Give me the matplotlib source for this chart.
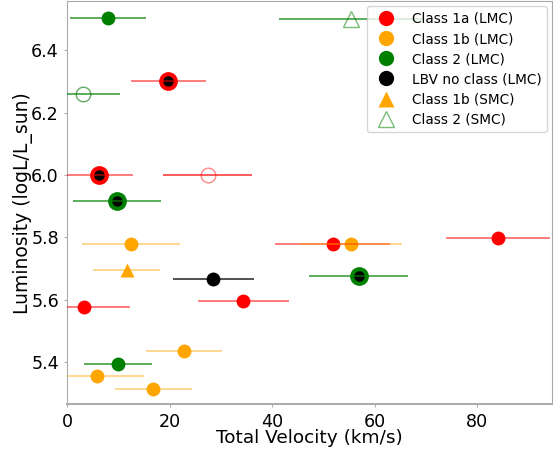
import matplotlib
matplotlib.use("Agg")
import matplotlib.pyplot as plt

# Class 1a (LMC)
c1a_x = [19.7, 6.1, 51.8, 84.0, 34.3, 3.3]
c1a_y = [6.301, 6.000, 5.778, 5.798, 5.597, 5.576]
c1a_e = [7.3, 6.8, 11.2, 10.2, 8.9, 8.9]
# Class 1b (LMC)
c1b_x = [12.4, 55.35, 22.8, 5.7, 16.8]
c1b_y = [5.778, 5.778, 5.436, 5.356, 5.315]
c1b_e = [9.5, 10.0, 7.45, 9.3, 7.45]
# Class 2 (LMC)
c2_x = [7.9, 9.65, 56.8, 9.9]
c2_y = [6.502, 5.918, 5.676, 5.394]
c2_e = [7.4, 8.6, 9.7, 6.55]
# LBVs inside classes (black cores)
lbv_in_x = [19.7, 6.1, 9.65, 56.8]
lbv_in_y = [6.301, 6.000, 5.918, 5.676]
lbv_in_col = ['red', 'red', 'green', 'green']
# LBV no class (LMC)
lbv_x = [28.5]
lbv_y = [5.667]
lbv_e = [7.85]
# Class 1b (SMC)
s1b_x = [11.6]
s1b_y = [5.696]
s1b_e = [6.5]
# Class 2 (SMC)
s2_x = [55.35]
s2_y = [6.500]
s2_e = [14.15]
# open circles
open_g_x = [3.1]
open_g_y = [6.259]
open_g_e = [7.1]
open_r_x = [27.4]
open_r_y = [6.000]
open_r_e = [8.7]

fig = plt.figure(figsize=(5.57, 4.49), dpi=100)
ax = fig.add_axes([67.3/557, 44.7/449, (552.3-67.3)/557, (448-44.7)/449])

def ebar(x, y, e, col, a):
    ax.errorbar(x, y, xerr=e, fmt='none', ecolor=col, alpha=a, elinewidth=1.2, zorder=4)

lbv_pts = list(zip(lbv_in_x, lbv_in_y))

# big rings for LBVs in classes
for xx, yy, cc in zip(lbv_in_x, lbv_in_y, lbv_in_col):
    ax.plot([xx], [yy], 'o', color=cc, ms=13.5, mec='none', zorder=2)
    ax.plot([xx], [yy], 'o', color='black', ms=7.5, mec='none', zorder=3)

def plain(xs, ys):
    pts = [(a, b) for a, b in zip(xs, ys) if (a, b) not in lbv_pts]
    return [p[0] for p in pts], [p[1] for p in pts]

x1, y1 = plain(c1a_x, c1a_y)
h1, = ax.plot(x1, y1, 'o', color='red', ms=10, mec='none', zorder=2, label='Class 1a (LMC)')
h2, = ax.plot(c1b_x, c1b_y, 'o', color='orange', ms=10, mec='none', zorder=2, label='Class 1b (LMC)')
x3, y3 = plain(c2_x, c2_y)
h3, = ax.plot(x3, y3, 'o', color='green', ms=10, mec='none', zorder=2, label='Class 2 (LMC)')
h4, = ax.plot(lbv_x, lbv_y, 'o', color='black', ms=10, mec='none', zorder=2, label='LBV no class (LMC)')
h5, = ax.plot(s1b_x, s1b_y, '^', color='orange', ms=10, mec='none', zorder=2, label='Class 1b (SMC)')
h6, = ax.plot(s2_x, s2_y, '^', mfc='none', mec='#77bb77', ms=11, mew=1, zorder=2, label='Class 2 (SMC)')
ax.plot(open_g_x, open_g_y, 'o', mfc='none', mec='#66aa66', ms=10.5, mew=1, zorder=2)
ax.plot(open_r_x, open_r_y, 'o', mfc='none', mec='#ff8888', ms=10.5, mew=1, zorder=2)

ebar(c1a_x, c1a_y, c1a_e, 'red', 0.6)
ebar(c1b_x, c1b_y, c1b_e, 'orange', 0.5)
ebar(c2_x, c2_y, c2_e, 'green', 0.75)
ebar(lbv_x, lbv_y, lbv_e, 'black', 0.8)
ebar(s1b_x, s1b_y, s1b_e, 'orange', 0.5)
ebar(s2_x, s2_y, s2_e, 'green', 0.75)
ebar(open_g_x, open_g_y, open_g_e, 'green', 0.75)
ebar(open_r_x, open_r_y, open_r_e, 'red', 0.75)

ax.set_xlim(0, 94.6)
ax.set_ylim(5.2645, 6.558)
ax.set_xticks([0, 20, 40, 60, 80])
ax.set_yticks([5.4, 5.6, 5.8, 6.0, 6.2, 6.4])
ax.tick_params(labelsize=12.6, color='#aaaaaa', length=2, pad=4)
for s in ax.spines.values():
    s.set_color('#aaaaaa')
ax.spines['bottom'].set_linewidth(1.4)
ax.set_xlabel('Total Velocity (km/s)', fontsize=13.3, labelpad=-1)
ax.set_ylabel('Luminosity (logL/L_sun)', fontsize=13.5, labelpad=-1)
ax.legend(handles=[h1, h2, h3, h4, h5, h6], loc='upper right', fontsize=9.8,
          markerscale=1.1, labelspacing=0.45, handletextpad=0.9, borderaxespad=0.4)

fig.savefig('out.png', dpi=100)
